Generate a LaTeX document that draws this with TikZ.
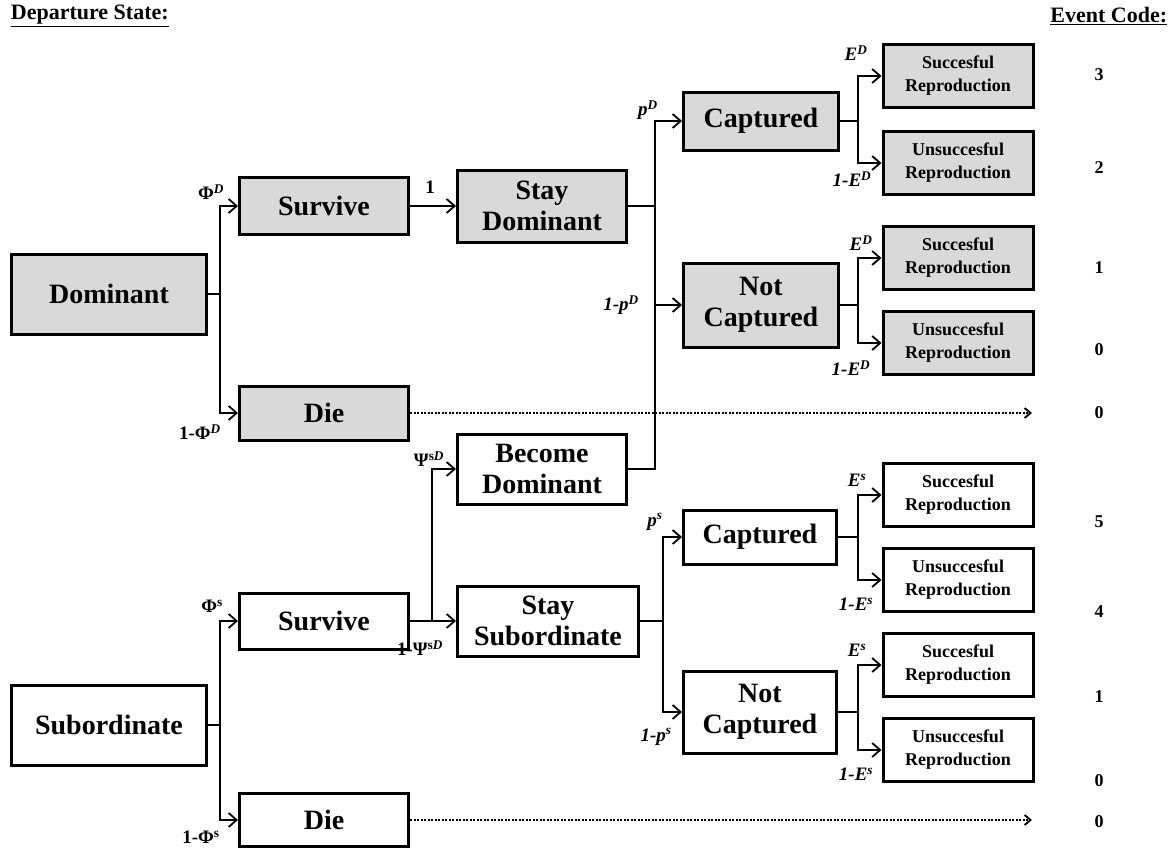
\documentclass[tikz,border=0pt]{standalone}
\usepackage{fontspec}
\setmainfont{Liberation Serif}
\usepackage{xcolor}
\usetikzlibrary{arrows.meta,positioning}
\definecolor{boxgray}{RGB}{217,217,217}
\newcommand{\sps}[1]{\textsuperscript{#1}}

\begin{document}
\begin{tikzpicture}[x=1pt, y=-1pt, >={Straight Barb[length=8pt,width=14pt]}, line width=1.8pt]
	\tikzstyle{box}=[draw=black, line width=3pt, align=center, inner sep=0pt, font=\fontsize{28}{31}\selectfont\bfseries]
	\tikzstyle{grey}=[fill=boxgray]
	\tikzstyle{repro}=[box, minimum width=150pt, minimum height=63pt, font=\fontsize{18}{23}\selectfont\bfseries]
	\tikzstyle{prob}=[inner sep=0pt, font=\fontsize{19}{19}\selectfont\bfseries]
	\tikzstyle{code}=[inner sep=0pt, font=\fontsize{18}{18}\selectfont\bfseries]
	\tikzstyle{skip}=[dash pattern=on 2pt off 1.5pt, -{Straight Barb[length=6pt,width=10pt]}]

	\useasboundingbox (0,0) rectangle (1174,851);

	\node[code, anchor=west, font=\fontsize{22}{22}\selectfont\bfseries] (hdep) at (10,16) {\underline{Departure State:}};
	\node[code, anchor=east, font=\fontsize{22}{22}\selectfont\bfseries] (hcode) at (1168,16) {\underline{Event Code:}};

	\node[box, grey, minimum width=195pt, minimum height=80pt] (dom) at (109,294) {Dominant};
	\node[box, grey, minimum width=169pt, minimum height=57pt] (survD) at (324,206) {Survive};
	\node[box, grey, minimum width=169pt, minimum height=54pt] (dieD) at (324,413) {Die};
	\node[box, grey, minimum width=169pt, minimum height=72pt] (stayD) at (542,206) {Stay\\Dominant};
	\node[box, minimum width=169pt, minimum height=70pt] (becD) at (542,469) {Become\\Dominant};
	\node[box, grey, minimum width=155pt, minimum height=58pt] (capD) at (761,121) {Captured};
	\node[box, grey, minimum width=155pt, minimum height=84pt] (ncapD) at (761,305) {Not\\Captured};
	\node[repro, grey] (rD1) at (958,76) {Succesful\\Reproduction};
	\node[repro, grey] (rD2) at (958,163) {Unsuccesful\\Reproduction};
	\node[repro, grey] (rD3) at (958,258) {Succesful\\Reproduction};
	\node[repro, grey] (rD4) at (958,343) {Unsuccesful\\Reproduction};

	\node[box, minimum width=195pt, minimum height=80pt] (sub) at (109,725) {Subordinate};
	\node[box, minimum width=169pt, minimum height=56pt] (survS) at (324,621) {Survive};
	\node[box, minimum width=169pt, minimum height=53pt] (dieS) at (324,820) {Die};
	\node[box, minimum width=181pt, minimum height=70pt] (staySub) at (548,621) {Stay\\Subordinate};
	\node[box, minimum width=153pt, minimum height=54pt] (capS) at (760,537) {Captured};
	\node[box, minimum width=153pt, minimum height=82pt] (ncapS) at (760,712) {Not\\Captured};
	\node[repro] (rS1) at (958,495) {Succesful\\Reproduction};
	\node[repro] (rS2) at (958,580) {Unsuccesful\\Reproduction};
	\node[repro] (rS3) at (958,665) {Succesful\\Reproduction};
	\node[repro] (rS4) at (958,750) {Unsuccesful\\Reproduction};

	\coordinate (jDom) at (220,294);
	\coordinate (jStay) at (655,206);
	\coordinate (jCapD) at (858,121);
	\coordinate (jNcapD) at (858,305);
	\coordinate (endD) at (1032,413);
	\coordinate (jSub) at (220,725);
	\coordinate (jSurv) at (432,621);
	\coordinate (jStaySub) at (663,621);
	\coordinate (jCapS) at (858,537);
	\coordinate (jNcapS) at (858,712);
	\coordinate (endS) at (1032,820);

	\draw (dom.east) -- (jDom);
	\draw[->] (jDom) |- (survD.west);
	\draw[->] (jDom) |- (dieD.west);
	\draw[->] (survD.east) -- (stayD.west);
	\draw (stayD.east) -- (jStay);
	\draw (becD.east) -| (jStay);
	\draw[->] (jStay) |- (capD.west);
	\draw[->] (jStay) |- (ncapD.west);
	\draw (capD.east) -- (jCapD);
	\draw[->] (jCapD) |- (rD1.west);
	\draw[->] (jCapD) |- (rD2.west);
	\draw (ncapD.east) -- (jNcapD);
	\draw[->] (jNcapD) |- (rD3.west);
	\draw[->] (jNcapD) |- (rD4.west);
	\draw[skip] (dieD.east) -- (endD);

	\draw (sub.east) -- (jSub);
	\draw[->] (jSub) |- (survS.west);
	\draw[->] (jSub) |- (dieS.west);
	\draw[->] (survS.east) -- (staySub.west);
	\draw[->] (jSurv) |- (becD.west);
	\draw (staySub.east) -- (jStaySub);
	\draw[->] (jStaySub) |- (capS.west);
	\draw[->] (jStaySub) |- (ncapS.west);
	\draw (capS.east) -- (jCapS);
	\draw[->] (jCapS) |- (rS1.west);
	\draw[->] (jCapS) |- (rS2.west);
	\draw (ncapS.east) -- (jNcapS);
	\draw[->] (jNcapS) |- (rS3.west);
	\draw[->] (jNcapS) |- (rS4.west);
	\draw[skip] (dieS.east) -- (endS);

	\node[prob] (lPhiD) at (211,192) {Φ\sps{\textit{D}}};
	\node[prob] (lPhiDn) at (200,432) {1-Φ\sps{\textit{D}}};
	\node[prob] (lOne) at (430,187) {1};
	\node[prob] (lpD) at (648,110) {\textit{p\sps{D}}};
	\node[prob] (lpDn) at (621,305) {\textit{1-p\sps{D}}};
	\node[prob] (lED1) at (856,53) {\textit{E\sps{D}}};
	\node[prob] (lEDn1) at (852,179) {\textit{1-E\sps{D}}};
	\node[prob] (lED2) at (861,243) {\textit{E\sps{D}}};
	\node[prob] (lEDn2) at (851,368) {\textit{1-E\sps{D}}};

	\node[prob] (lPsi) at (429,459) {Ψ\sps{s\textit{D}}};
	\node[prob] (lPsin) at (420,648) {1-Ψ\sps{s\textit{D}}};
	\node[prob] (lPhiS) at (212,606) {Φ\sps{s}};
	\node[prob] (lPhiSn) at (201,837) {1-Φ\sps{s}};
	\node[prob] (lpS) at (655,522) {\textit{p\sps{s}}};
	\node[prob] (lpSn) at (656,737) {\textit{1-p\sps{s}}};
	\node[prob] (lES1) at (857,480) {\textit{E\sps{s}}};
	\node[prob] (lESn1) at (856,604) {\textit{1-E\sps{s}}};
	\node[prob] (lES2) at (857,650) {\textit{E\sps{s}}};
	\node[prob] (lESn2) at (856,774) {\textit{1-E\sps{s}}};

	\foreach \c/\y [count=\i] in {3/75, 2/168, 1/268, 0/350, 0/413, 5/522, 4/612, 1/697, 0/781, 0/822}
		\node[code] (ev\i) at (1099,\y) {\c};

\end{tikzpicture}
\end{document}
